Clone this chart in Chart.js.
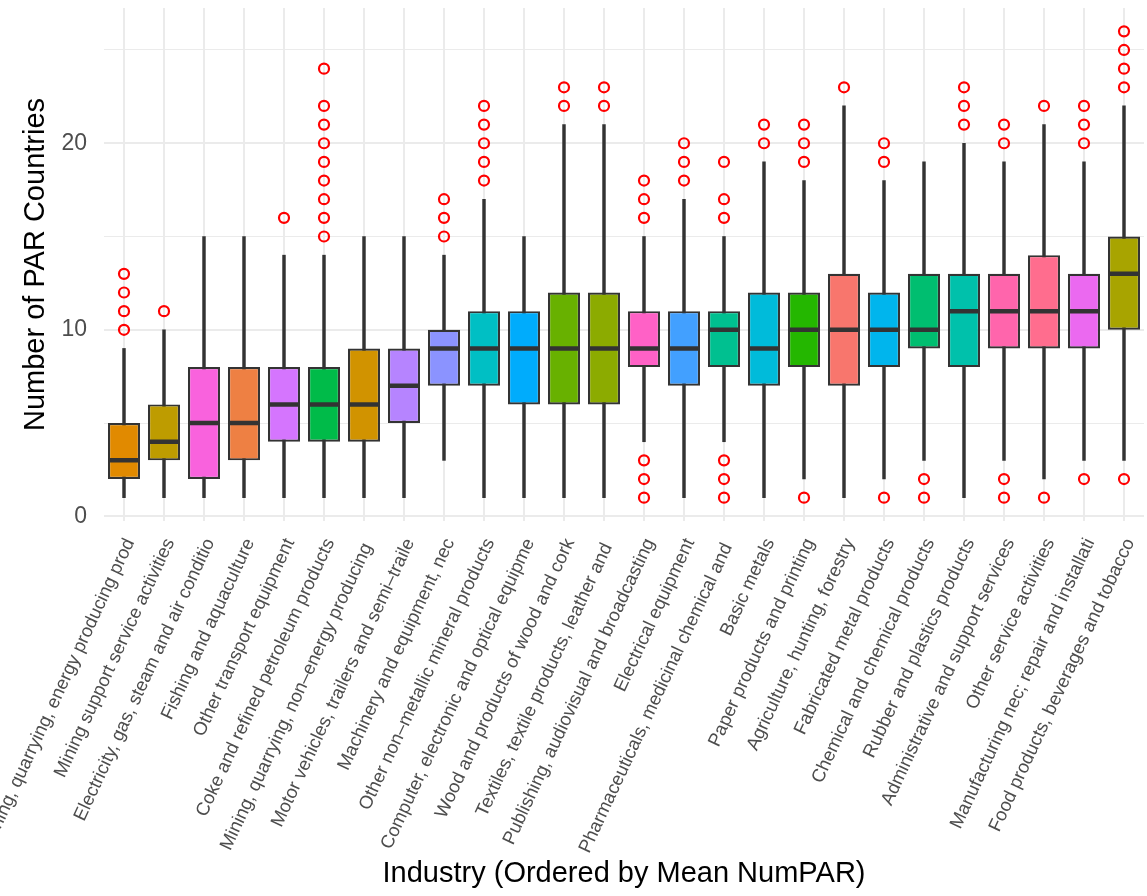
<!DOCTYPE html>
<html>
<head>
<meta charset="utf-8">
<script src="https://cdn.jsdelivr.net/npm/chart.js@4.4.0/dist/chart.umd.min.js"></script>
<style>
  html, body { margin: 0; padding: 0; background: #ffffff; }
  canvas { display: block; }
</style>
</head>
<body>
<canvas id="boxChart" width="1147" height="896"></canvas>
<script>
// industries, already ordered by mean NumPAR (labels truncated to 40 chars like the original)
const industries = [
    'Mining, quarrying, energy producing prod',
    'Mining support service activities',
    'Electricity, gas, steam and air conditio',
    'Fishing and aquaculture',
    'Other transport equipment',
    'Coke and refined petroleum products',
    'Mining, quarrying, non–energy producing ',
    'Motor vehicles, trailers and semi–traile',
    'Machinery and equipment, nec',
    'Other non–metallic mineral products',
    'Computer, electronic and optical equipme',
    'Wood and products of wood and cork',
    'Textiles, textile products, leather and ',
    'Publishing, audiovisual and broadcasting',
    'Electrical equipment',
    'Pharmaceuticals, medicinal chemical and ',
    'Basic metals',
    'Paper products and printing',
    'Agriculture, hunting, forestry',
    'Fabricated metal products',
    'Chemical and chemical products',
    'Rubber and plastics products',
    'Administrative and support services',
    'Other service activities',
    'Manufacturing nec; repair and installati',
    'Food products, beverages and tobacco'
];

const lowWhisker  = [1, 1, 1, 1, 1, 1, 1, 1, 3, 1, 1, 1, 1, 4, 1, 4, 1, 2, 1, 2, 3, 1, 3, 2, 3, 3];
const q1          = [2, 3, 2, 3, 4, 4, 4, 5, 7, 7, 6, 6, 6, 8, 7, 8, 7, 8, 7, 8, 9, 8, 9, 9, 9, 10];
const medians     = [3, 4, 5, 5, 6, 6, 6, 7, 9, 9, 9, 9, 9, 9, 9, 10, 9, 10, 10, 10, 10, 11, 11, 11, 11, 13];
const q3          = [5, 6, 8, 8, 8, 8, 9, 9, 10, 11, 11, 12, 12, 11, 11, 11, 12, 12, 13, 12, 13, 13, 13, 14, 13, 15];
const highWhisker = [9, 10, 15, 15, 14, 14, 15, 15, 14, 17, 15, 21, 21, 15, 17, 15, 19, 18, 22, 18, 19, 20, 19, 21, 19, 22];

const outliers = [
    [10, 11, 12, 13],
    [11],
    [],
    [],
    [16],
    [15, 16, 17, 18, 19, 20, 21, 22, 24],
    [],
    [],
    [15, 16, 17],
    [18, 19, 20, 21, 22],
    [],
    [22, 23],
    [22, 23],
    [1, 2, 3, 16, 17, 18],
    [18, 19, 20],
    [1, 2, 3, 16, 17, 19],
    [20, 21],
    [1, 19, 20, 21],
    [23],
    [1, 19, 20],
    [1, 2],
    [21, 22, 23],
    [1, 2, 20, 21],
    [1, 22],
    [2, 20, 21, 22],
    [2, 23, 24, 25, 26]
];

const gridValues = [0, 5, 10, 15, 20, 25];
const yTickLabels = [0, 10, 20];

// fill colours: ggplot hue palette, each industry keeps its slot from the original factor
const hueSlot = [2, 4, 22, 1, 20, 9, 3, 19, 18, 13, 16, 7, 6, 23, 17, 11, 14, 8, 0, 15, 10, 12, 24, 25, 21, 5];

function hcl(h, c, l) {
    const Xn = 95.047, Yn = 100, Zn = 108.883;
    const un = 4 * Xn / (Xn + 15 * Yn + 3 * Zn);
    const vn = 9 * Yn / (Xn + 15 * Yn + 3 * Zn);
    const hr = h * Math.PI / 180;
    const U = c * Math.cos(hr), V = c * Math.sin(hr);
    const Y = Yn * (l > 8 ? Math.pow((l + 16) / 116, 3) : l / 903.3);
    const up = U / (13 * l) + un, vp = V / (13 * l) + vn;
    const X = 9 * Y * up / (4 * vp);
    const Z = -X / 3 - 5 * Y + 3 * Y / vp;
    const x = X / 100, y = Y / 100, z = Z / 100;
    const lin = [
        3.240479 * x - 1.537150 * y - 0.498535 * z,
        -0.969256 * x + 1.875992 * y + 0.041556 * z,
        0.055648 * x - 0.204043 * y + 1.057311 * z
    ];
    return '#' + lin.map(v => {
        v = v <= 0.0031308 ? 12.92 * v : 1.055 * Math.pow(v, 1 / 2.4) - 0.055;
        v = Math.min(1, Math.max(0, v));
        return Math.round(v * 255).toString(16).padStart(2, '0');
    }).join('');
}

const boxColors = hueSlot.map(s => hcl(15 + s * 360 / 26, 100, 65));

const FONT = "'Liberation Sans', Arial, sans-serif";

const outlierPoints = [];
outliers.forEach((vals, i) => {
    vals.forEach(v => outlierPoints.push({ x: industries[i], y: v }));
});

const ctx = document.getElementById('boxChart').getContext('2d');
new Chart(ctx, {
    type: 'bar',
    data: {
        labels: industries,
        datasets: [
            {
                // whiskers
                type: 'bar',
                data: industries.map((_, i) => [lowWhisker[i], highWhisker[i]]),
                backgroundColor: '#333333',
                barThickness: 2.8,
                grouped: false,
                order: 4
            },
            {
                // boxes
                type: 'bar',
                data: industries.map((_, i) => [q1[i], q3[i]]),
                backgroundColor: boxColors,
                borderColor: '#333333',
                borderWidth: 2.2,
                borderSkipped: false,
                categoryPercentage: 1,
                barPercentage: 0.8,
                grouped: false,
                order: 3
            },
            {
                // medians
                type: 'line',
                data: medians,
                showLine: false,
                pointStyle: 'line',
                pointRadius: 15,
                pointBorderWidth: 4.5,
                pointBorderColor: '#333333',
                order: 2
            },
            {
                // outliers
                type: 'line',
                data: outlierPoints,
                showLine: false,
                pointStyle: 'circle',
                pointRadius: 5,
                pointBorderWidth: 2.2,
                pointBorderColor: '#FF0000',
                pointBackgroundColor: 'rgba(0,0,0,0)',
                order: 1
            }
        ]
    },
    options: {
        responsive: false,
        devicePixelRatio: 1,
        animation: false,
        events: [],
        layout: { autoPadding: false, padding: { top: 8, right: 3, bottom: 0, left: 0 } },
        plugins: {
            legend: { display: false },
            tooltip: { enabled: false }
        },
        scales: {
            x: {
                offset: true,
                grid: { offset: false, color: '#EBEBEB', lineWidth: 2, drawTicks: false },
                border: { display: false },
                ticks: {
                    autoSkip: false,
                    minRotation: 65,
                    maxRotation: 65,
                    padding: 14,
                    labelOffset: 6,
                    color: '#4D4D4D',
                    font: { family: FONT, size: 18.5 }
                },
                title: {
                    display: true,
                    text: 'Industry (Ordered by Mean NumPAR)',
                    color: '#000000',
                    font: { family: FONT, size: 29 },
                    padding: { top: 0, bottom: 5 }
                },
                afterFit: (scale) => {
                    scale.height = 375;
                    scale.paddingLeft = 0;
                    scale.paddingRight = 0;
                }
            },
            y: {
                min: -0.25,
                max: 27.25,
                grid: {
                    color: '#EBEBEB',
                    lineWidth: (c) => (c.tick && c.tick.value % 10 === 0) ? 2 : 1,
                    drawTicks: false
                },
                border: { display: false },
                afterBuildTicks: (scale) => {
                    scale.ticks = gridValues.map(v => ({ value: v }));
                },
                ticks: {
                    padding: 17,
                    color: '#4D4D4D',
                    font: { family: FONT, size: 23 },
                    callback: (v) => yTickLabels.includes(v) ? String(v) : ''
                },
                title: {
                    display: true,
                    text: 'Number of PAR Countries',
                    color: '#000000',
                    font: { family: FONT, size: 29 },
                    padding: { top: 19, bottom: 0 }
                },
                afterFit: (scale) => {
                    scale.width = 104;
                    scale.paddingTop = 0;
                    scale.paddingBottom = 0;
                }
            }
        }
    }
});
</script>
</body>
</html>
